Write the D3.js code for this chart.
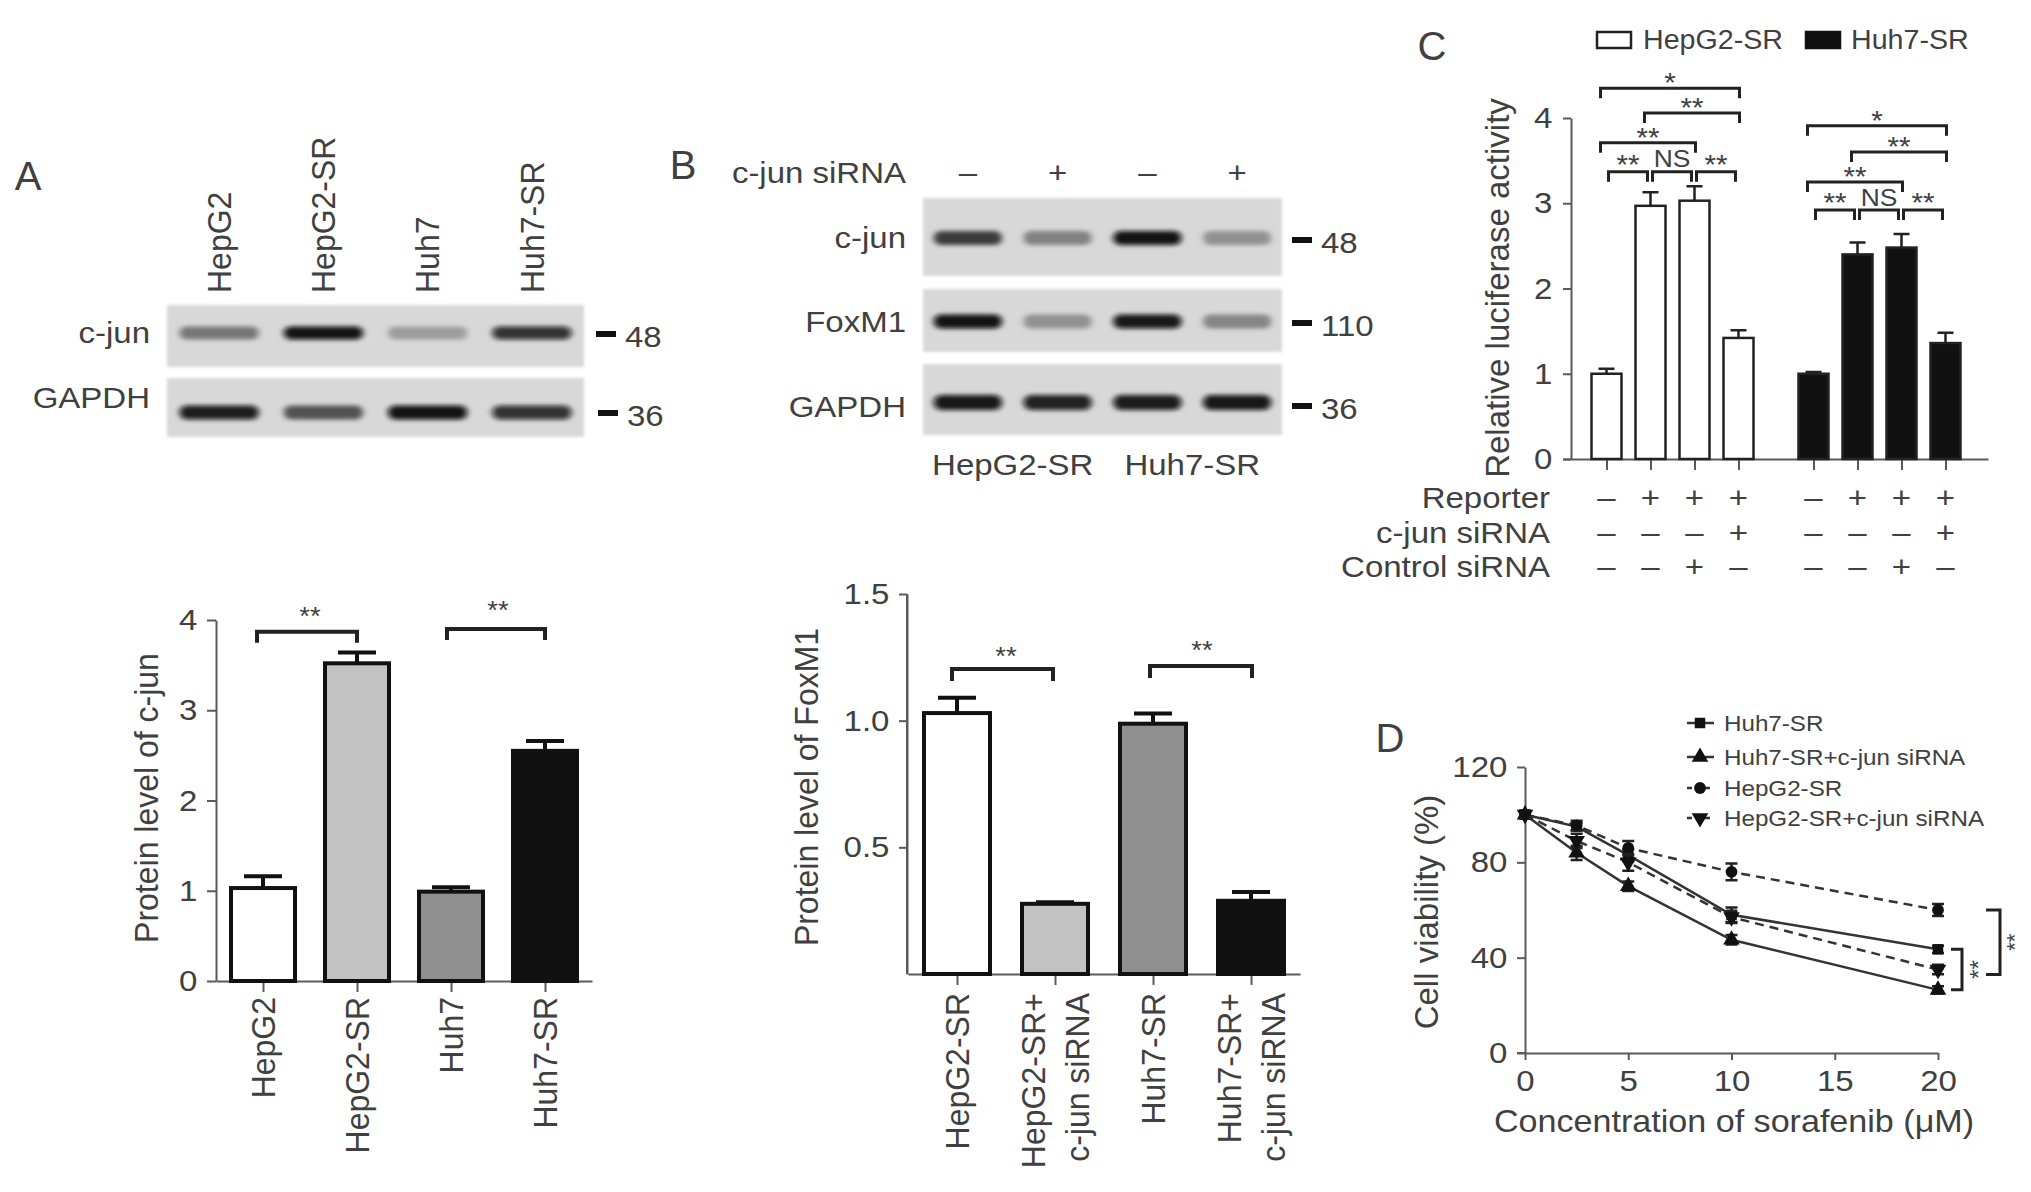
<!DOCTYPE html>
<html><head><meta charset="utf-8">
<script src="https://cdn.jsdelivr.net/npm/d3@7"></script>
<style>body{margin:0;background:#fff}svg{display:block}</style>
</head><body><svg id="c" width="2031" height="1192"></svg>
<script>
// ---------------- DATA ----------------
const blotA_lanes = ['HepG2', 'HepG2-SR', 'Huh7', 'Huh7-SR'];
const blotA_cjun = [0.45, 0.97, 0.28, 0.82];
const blotA_gapdh = [0.92, 0.62, 0.97, 0.82];
const blotB_siRNA = ['–', '+', '–', '+'];
const blotB_cjun = [0.72, 0.4, 0.97, 0.33];
const blotB_foxm1 = [0.97, 0.33, 0.95, 0.38];
const blotB_gapdh = [0.95, 0.9, 0.93, 0.95];
const blotB_groups = ['HepG2-SR', 'Huh7-SR'];

const catsA = ['HepG2', 'HepG2-SR', 'Huh7', 'Huh7-SR'];
const valsA = [1.03, 3.52, 0.99, 2.55];
const errA = [0.13, 0.12, 0.05, 0.11];
const colorsA = ['#ffffff', '#c2c2c2', '#8f8f8f', '#111111'];
const ticksA = [0, 1, 2, 3, 4];

const catsB = [['HepG2-SR'], ['HepG2-SR+', 'c-jun siRNA'], ['Huh7-SR'], ['Huh7-SR+', 'c-jun siRNA']];
const valsB = [1.03, 0.277, 0.988, 0.289];
const errB = [0.06, 0.006, 0.04, 0.035];
const ticksB = [0.5, 1.0, 1.5];

const groupsC = ['HepG2-SR', 'Huh7-SR'];
const valsC_HepG2 = [1.0, 2.97, 3.03, 1.42];
const errC_HepG2 = [0.06, 0.16, 0.17, 0.09];
const valsC_Huh7 = [1.0, 2.40, 2.48, 1.36];
const errC_Huh7 = [0.02, 0.14, 0.16, 0.12];
const ticksC = [0, 1, 2, 3, 4];
const rowsC = ['Reporter', 'c-jun siRNA', 'Control siRNA'];
const reporterC = ['–', '+', '+', '+'];
const cjunSiC = ['–', '–', '–', '+'];
const controlSiC = ['–', '–', '+', '–'];
const sigC_HepG2 = [
  {i: 0, j: 1, y: 3.37, lab: '**'}, {i: 1, j: 2, y: 3.37, lab: 'NS'}, {i: 2, j: 3, y: 3.37, lab: '**'},
  {i: 0, j: 2, y: 3.71, lab: '**'}, {i: 1, j: 3, y: 4.06, lab: '**'}, {i: 0, j: 3, y: 4.35, lab: '*'}];
const sigC_Huh7 = [
  {i: 0, j: 1, y: 2.92, lab: '**'}, {i: 1, j: 2, y: 2.92, lab: 'NS'}, {i: 2, j: 3, y: 2.92, lab: '**'},
  {i: 0, j: 2, y: 3.25, lab: '**'}, {i: 1, j: 3, y: 3.60, lab: '**'}, {i: 0, j: 3, y: 3.91, lab: '*'}];

const doseD = [0, 2.5, 5, 10, 20];
const ticksDx = [0, 5, 10, 15, 20];
const ticksDy = [0, 40, 80, 120];
const seriesD = [
  {name: 'Huh7-SR', vals: [100, 95, 83, 58, 43.5], err: [1.5, 1.5, 2.5, 3, 1.5], dash: null, sym: 'square'},
  {name: 'Huh7-SR+c-jun siRNA', vals: [100, 84, 70, 47.5, 26.5], err: [1.5, 3, 2, 2, 1.5], dash: null, sym: 'up'},
  {name: 'HepG2-SR', vals: [100, 95.5, 86, 76, 60], err: [1.5, 2, 3, 3.5, 2.5], dash: '9,6', sym: 'circle'},
  {name: 'HepG2-SR+c-jun siRNA', vals: [100, 89, 80, 57, 35], err: [1.5, 3, 3.5, 2.5, 2], dash: '9,6', sym: 'down'}];

// ---------------- SETUP ----------------
const svg = d3.select('#c');
svg.append('rect').attr('width', 2031).attr('height', 1192).attr('fill', '#fff');
const FONT = '"Liberation Sans", Arial, Helvetica, sans-serif';
const TXT = '#404040';
const AX = '#5a5a5a';
const SX = 1.1;
const fmtInt = d3.format('d');

const defs = svg.append('defs');
const fb = defs.append('filter').attr('id', 'bandBlur').attr('x', '-30%').attr('y', '-150%').attr('width', '160%').attr('height', '400%');
fb.append('feGaussianBlur').attr('stdDeviation', '3 2');
const fe = defs.append('filter').attr('id', 'edgeBlur').attr('x', '-5%').attr('y', '-10%').attr('width', '110%').attr('height', '120%');
fe.append('feGaussianBlur').attr('stdDeviation', 1.5);

function label(g, x, y, s, o = {}) {
  const rot = o.rot ? ` rotate(${o.rot})` : '';
  return g.append('text')
    .attr('transform', `translate(${x},${y}) scale(${o.sx ?? SX},1)${rot}`)
    .attr('font-family', FONT)
    .attr('font-size', o.fs ?? 30)
    .attr('text-anchor', o.anchor ?? 'middle')
    .attr('dominant-baseline', o.base ?? 'central')
    .attr('fill', o.fill ?? TXT)
    .text(s);
}
function styleAxis(sel, fs = 30) {
  sel.selectAll('path,line').attr('stroke', AX).attr('stroke-width', 2);
  sel.selectAll('text').attr('font-family', FONT).attr('font-size', fs).attr('fill', TXT);
}
function bracket(g, x1, x2, y, leg, sw = 3) {
  g.append('path').attr('d', `M${x1},${y + leg}V${y}H${x2}V${y + leg}`)
    .attr('fill', 'none').attr('stroke', '#222').attr('stroke-width', sw);
}
function stars(g, x, cy, s, fs = 26) {
  // asterisks sit high in the em box: put baseline below the visual center
  return label(g, x, cy + 0.56 * fs, s, {fs, base: 'alphabetic'});
}

// ---------------- BLOTS ----------------
function blot(g, x0, x1, y0, y1, intens, bandH, dy = 0) {
  g.append('rect').attr('x', x0).attr('y', y0).attr('width', x1 - x0).attr('height', y1 - y0)
    .attr('fill', '#d8d8d8').attr('filter', 'url(#edgeBlur)');
  const xs = d3.scalePoint().domain(d3.range(intens.length)).range([x0, x1]).padding(0.5);
  const w = xs.step() * 0.76;
  g.selectAll(null).data(intens).join('rect')
    .attr('x', (d, i) => xs(i) - w / 2).attr('y', (y0 + y1) / 2 + dy - bandH / 2)
    .attr('width', w).attr('height', bandH).attr('rx', bandH / 2)
    .attr('fill', '#080808').attr('fill-opacity', d => d)
    .attr('filter', 'url(#bandBlur)');
  return xs;
}
function marker(g, x, y, s) {
  g.append('rect').attr('x', x).attr('y', y - 3).attr('width', 20).attr('height', 6).attr('fill', '#111');
  label(g, x + 29, y + 3, s, {anchor: 'start', fs: 30});
}

// Panel A blot
const gAb = svg.append('g');
label(gAb, 28, 176, 'A', {fs: 40, sx: 1.0});
const xsA = blot(gAb, 167, 584, 305, 367, blotA_cjun, 13, -3);
blot(gAb, 167, 584, 378, 437, blotA_gapdh, 14, 5);
blotA_lanes.forEach((l, i) => label(gAb, xsA(i), 293, l, {rot: -90, anchor: 'start', fs: 32, sx: 1.05}));
label(gAb, 150, 333, 'c-jun', {anchor: 'end'});
label(gAb, 150, 398, 'GAPDH', {anchor: 'end'});
marker(gAb, 596, 334, '48');
marker(gAb, 598, 413, '36');

// Panel B blot
const gBb = svg.append('g');
label(gBb, 683, 165, 'B', {fs: 40, sx: 1.0});
label(gBb, 906, 173, 'c-jun siRNA', {anchor: 'end'});
const xsB = blot(gBb, 923, 1282, 198, 276, blotB_cjun, 14, 1);
blot(gBb, 923, 1282, 289, 352, blotB_foxm1, 14, 1);
blot(gBb, 923, 1282, 364, 435, blotB_gapdh, 15, 3);
blotB_siRNA.forEach((s, i) => label(gBb, xsB(i), 173, s));
label(gBb, 906, 238, 'c-jun', {anchor: 'end'});
label(gBb, 906, 322, 'FoxM1', {anchor: 'end'});
label(gBb, 906, 407, 'GAPDH', {anchor: 'end'});
marker(gBb, 1292, 240, '48');
marker(gBb, 1292, 323, '110');
marker(gBb, 1292, 406, '36');
blotB_groups.forEach((s, k) => label(gBb, (xsB(2 * k) + xsB(2 * k + 1)) / 2, 465, s));

// ---------------- PANEL A BAR ----------------
const gA = svg.append('g');
const yA = d3.scaleLinear().domain([0, 4]).range([981, 620]);
const xA = d3.scalePoint().domain(catsA).range([216, 592]).padding(0.5);
const axA = gA.append('g').attr('transform', 'translate(216,0)')
  .call(d3.axisLeft(yA).tickValues(ticksA).tickFormat(fmtInt).tickSize(9).tickPadding(8).tickSizeOuter(0));
styleAxis(axA); axA.selectAll('text').attr('transform', `scale(${SX},1)`);
const axAx = gA.append('g').attr('transform', 'translate(0,981)')
  .call(d3.axisBottom(xA).tickSize(11).tickFormat('').tickSizeOuter(0));
styleAxis(axAx);
gA.selectAll(null).data(catsA).join('rect')
  .attr('x', d => xA(d) - 32).attr('width', 64)
  .attr('y', (d, i) => yA(valsA[i])).attr('height', (d, i) => yA(0) - yA(valsA[i]))
  .attr('fill', (d, i) => colorsA[i]).attr('stroke', '#111').attr('stroke-width', 4);
catsA.forEach((c, i) => {
  const x = xA(c), y0 = yA(valsA[i]), y1 = yA(valsA[i] + errA[i]);
  gA.append('path').attr('d', `M${x},${y0}V${y1}M${x - 19},${y1}H${x + 19}`).attr('stroke', '#111').attr('stroke-width', 4);
  label(gA, x, 997, c, {rot: -90, anchor: 'end', fs: 32, sx: 1.05});
});
bracket(gA, xA(catsA[0]) - 6, xA(catsA[1]), yA(3.87), 11, 4);
bracket(gA, xA(catsA[2]) - 4, xA(catsA[3]), yA(3.90), 11, 4);
stars(gA, (xA(catsA[0]) + xA(catsA[1])) / 2, 611, '**', 25);
stars(gA, (xA(catsA[2]) + xA(catsA[3])) / 2, 605, '**', 25);
label(gA, 146, 798, 'Protein level of c-jun', {rot: -90, fs: 32, sx: 1.05});

// ---------------- PANEL B BAR ----------------
const gB = svg.append('g');
const yB = d3.scaleLinear().domain([0, 1.5]).range([974, 594]);
const keysB = catsB.map(d => d.join(' '));
const xB = d3.scalePoint().domain(keysB).range([908, 1300]).padding(0.5);
const axB = gB.append('g').attr('transform', 'translate(907,0)')
  .call(d3.axisLeft(yB).tickValues(ticksB).tickFormat(d3.format('.1f')).tickSize(8).tickPadding(8).tickSizeOuter(0));
styleAxis(axB); axB.selectAll('text').attr('transform', `scale(${SX},1)`);
gB.append('line').attr('x1', 907).attr('x2', 907).attr('y1', yB(1.5)).attr('y2', yB(0)).attr('stroke', AX).attr('stroke-width', 2);
const axBx = gB.append('g').attr('transform', 'translate(0,974)')
  .call(d3.axisBottom(xB).tickSize(11).tickFormat('').tickSizeOuter(0));
styleAxis(axBx);
gB.selectAll(null).data(keysB).join('rect')
  .attr('x', d => xB(d) - 33).attr('width', 66)
  .attr('y', (d, i) => yB(valsB[i])).attr('height', (d, i) => yB(0) - yB(valsB[i]))
  .attr('fill', (d, i) => colorsA[i]).attr('stroke', '#111').attr('stroke-width', 4);
keysB.forEach((k, i) => {
  const x = xB(k), y0 = yB(valsB[i]), y1 = yB(valsB[i] + errB[i]);
  gB.append('path').attr('d', `M${x},${y0}V${y1}M${x - 19},${y1}H${x + 19}`).attr('stroke', '#111').attr('stroke-width', 4);
  const lines = catsB[i];
  lines.forEach((ln, j) => label(gB, x + (j - (lines.length - 1) / 2) * 44, 993, ln, {rot: -90, anchor: 'end', fs: 32, sx: 1.05}));
});
bracket(gB, xB(keysB[0]) - 5, xB(keysB[1]) - 2, yB(1.204), 12, 4);
bracket(gB, xB(keysB[2]) - 3, xB(keysB[3]) + 1, yB(1.216), 12, 4);
stars(gB, (xB(keysB[0]) + xB(keysB[1])) / 2, 651, '**', 25);
stars(gB, (xB(keysB[2]) + xB(keysB[3])) / 2, 645, '**', 25);
label(gB, 806, 787, 'Protein level of FoxM1', {rot: -90, fs: 32, sx: 1.05});

// ---------------- PANEL C ----------------
const gC = svg.append('g');
label(gC, 1432, 46, 'C', {fs: 40, sx: 1.0});
const yC = d3.scaleLinear().domain([0, 4]).range([459, 118]);
const xC = d3.scalePoint().domain(groupsC).range([1569, 1983]).padding(0.5);
const xCi = d3.scalePoint().domain(d3.range(4)).range([-66, 66]);
const axC = gC.append('g').attr('transform', 'translate(1571,0)')
  .call(d3.axisLeft(yC).tickValues(ticksC).tickFormat(fmtInt).tickSize(8).tickPadding(9).tickSizeOuter(0));
styleAxis(axC); axC.selectAll('text').attr('transform', `scale(${SX},1)`);
const xCpos = [];
groupsC.forEach(gname => d3.range(4).forEach(i => xCpos.push(xC(gname) + xCi(i))));
const axCx = gC.append('g').attr('transform', 'translate(0,459)')
  .call(d3.axisBottom(d3.scaleLinear().domain([1563, 1988]).range([1563, 1988])).tickValues(xCpos).tickSize(11).tickFormat('').tickSizeOuter(0));
styleAxis(axCx);
[[groupsC[0], valsC_HepG2, errC_HepG2, '#fff', sigC_HepG2], [groupsC[1], valsC_Huh7, errC_Huh7, '#111', sigC_Huh7]].forEach(([gname, vals, errs, fill, sig]) => {
  const cx = i => xC(gname) + xCi(i);
  gC.selectAll(null).data(vals).join('rect')
    .attr('x', (d, i) => cx(i) - 15).attr('width', 30)
    .attr('y', d => yC(d)).attr('height', d => yC(0) - yC(d))
    .attr('fill', fill).attr('stroke', '#222').attr('stroke-width', 2.5);
  vals.forEach((v, i) => {
    const y0 = yC(v), y1 = yC(v + errs[i]);
    gC.append('path').attr('d', `M${cx(i)},${y0}V${y1}M${cx(i) - 8},${y1}H${cx(i) + 8}`).attr('stroke', '#222').attr('stroke-width', 2.5);
  });
  sig.forEach(s => {
    const adj = s.j - s.i === 1;
    const x1 = cx(s.i) + (adj ? 2 : -6), x2 = cx(s.j) + (adj ? -3 : 1);
    const y = yC(s.y);
    bracket(gC, x1, x2, y, 10, 3);
    const mx = (x1 + x2) / 2;
    if (s.lab === 'NS') label(gC, mx, y - 13, 'NS', {fs: 24});
    else stars(gC, mx, y - (adj ? 13 : 11), s.lab, 27);
  });
});
label(gC, 1497, 288, 'Relative luciferase activity', {rot: -90, fs: 33, sx: 1.0});
// legend
gC.append('rect').attr('x', 1597).attr('y', 32).attr('width', 34).attr('height', 16).attr('fill', '#fff').attr('stroke', '#222').attr('stroke-width', 2.5);
label(gC, 1643, 40, groupsC[0], {anchor: 'start', fs: 27, sx: 1.06});
gC.append('rect').attr('x', 1806).attr('y', 32).attr('width', 34).attr('height', 16).attr('fill', '#111').attr('stroke', '#111').attr('stroke-width', 2.5);
label(gC, 1851, 40, groupsC[1], {anchor: 'start', fs: 27, sx: 1.06});
// condition table
[[reporterC, 498], [cjunSiC, 533], [controlSiC, 567]].forEach(([row, y], r) => {
  label(gC, 1550, y, rowsC[r], {anchor: 'end'});
  xCpos.forEach((x, k) => label(gC, x, y, row[k % 4], {fs: 30}));
});

// ---------------- PANEL D ----------------
const gD = svg.append('g');
label(gD, 1390, 738, 'D', {fs: 40, sx: 1.0});
const xD = d3.scaleLinear().domain([0, 20]).range([1525, 1938]);
const yD = d3.scaleLinear().domain([0, 120]).range([1053, 767]);
const axDy = gD.append('g').attr('transform', 'translate(1525,0)')
  .call(d3.axisLeft(yD).tickValues(ticksDy).tickSize(8).tickPadding(8).tickSizeOuter(0));
styleAxis(axDy); axDy.selectAll('text').attr('transform', `scale(${SX},1)`);
const axDx = gD.append('g').attr('transform', 'translate(0,1053)')
  .call(d3.axisBottom(xD).tickValues(ticksDx).tickSize(7).tickPadding(10).tickSizeOuter(0));
styleAxis(axDx); axDx.selectAll('text').attr('transform', `scale(${SX},1)`);
gD.append('line').attr('x1', 1517).attr('x2', 1525).attr('y1', 1053).attr('y2', 1053).attr('stroke', AX).attr('stroke-width', 2);
label(gD, 1734, 1122, 'Concentration of sorafenib (μM)', {fs: 31});
label(gD, 1426, 912, 'Cell viability (%)', {rot: -90, fs: 33, sx: 1.0});

const symMap = {
  square: d3.symbol().type(d3.symbolSquare).size(110),
  up: d3.symbol().type(d3.symbolTriangle).size(120),
  down: d3.symbol().type(d3.symbolTriangle).size(120),
  circle: d3.symbol().type(d3.symbolCircle).size(110)
};
const lineD = d3.line().x((d, i) => xD(doseD[i])).y(d => yD(d));
seriesD.forEach(s => {
  gD.append('path').attr('d', lineD(s.vals)).attr('fill', 'none').attr('stroke', '#333')
    .attr('stroke-width', 2.5).attr('stroke-dasharray', s.dash);
  s.vals.forEach((v, i) => {
    const x = xD(doseD[i]);
    gD.append('path').attr('d', `M${x},${yD(v - s.err[i])}V${yD(v + s.err[i])}M${x - 6},${yD(v - s.err[i])}H${x + 6}M${x - 6},${yD(v + s.err[i])}H${x + 6}`)
      .attr('stroke', '#222').attr('stroke-width', 2.5);
    gD.append('path').attr('d', symMap[s.sym]())
      .attr('transform', `translate(${x},${yD(v)})` + (s.sym === 'down' ? ' rotate(180)' : ''))
      .attr('fill', '#111');
  });
});
// legend
const legY = [723, 757, 788, 818];
seriesD.forEach((s, k) => {
  gD.append('line').attr('x1', 1687).attr('x2', 1714).attr('y1', legY[k]).attr('y2', legY[k])
    .attr('stroke', '#333').attr('stroke-width', 2.5).attr('stroke-dasharray', s.dash ? '5,4' : null);
  gD.append('path').attr('d', symMap[s.sym]())
    .attr('transform', `translate(1700,${legY[k]})` + (s.sym === 'down' ? ' rotate(180)' : ''))
    .attr('fill', '#111');
  label(gD, 1724, legY[k], s.name, {anchor: 'start', fs: 22});
});
// significance brackets at 20 uM
const last = seriesD.map(s => yD(s.vals[4]));
gD.append('path').attr('d', `M1951,${last[0]}H1962V${last[1]}H1951`).attr('fill', 'none').attr('stroke', '#222').attr('stroke-width', 3);
gD.append('path').attr('d', `M1986,${last[2]}H2000V${last[3] + 5}H1986`).attr('fill', 'none').attr('stroke', '#222').attr('stroke-width', 3);
label(gD, 1978, (last[0] + last[1]) / 2, '**', {rot: -90, fs: 24, sx: 1.0});
label(gD, 2014, (last[2] + last[3] + 5) / 2, '**', {rot: -90, fs: 22, sx: 1.0});
</script></body></html>
